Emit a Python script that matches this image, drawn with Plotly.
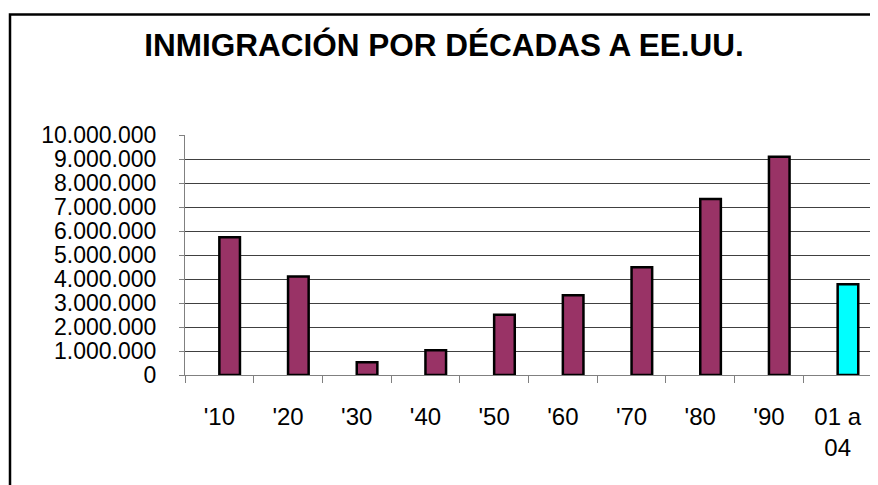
import plotly.graph_objects as go

# inmigración por décadas
decadas = ["'10", "'20", "'30", "'40", "'50", "'60", "'70", "'80", "'90"]
inmigrantes = [5735811, 4107209, 528431, 1035039, 2515479, 3321677, 4493314, 7338062, 9095417]
ultimo = ["01 a<br>04"]
ultimo_valor = [3780019]
yticks = [0, 1000000, 2000000, 3000000, 4000000, 5000000,
          6000000, 7000000, 8000000, 9000000, 10000000]

# la página añade 8px de margen al cuerpo
OFF = 8
W, H = 878 - OFF, 485 - OFF
L, R, T, B = 185 - OFF, 6, 135 - OFF, 110
pw = W - L - R
ph = H - T - B

fig = go.Figure()
fig.add_trace(go.Bar(x=decadas, y=inmigrantes, width=0.3, offset=0,
                     marker=dict(color="#993366", line=dict(color="black", width=2.5)),
                     name="Décadas"))
fig.add_trace(go.Bar(x=ultimo, y=ultimo_valor, width=0.3, offset=0,
                     marker=dict(color="#00FFFF", line=dict(color="black", width=2.5)),
                     name="2001-2004"))

fig.update_layout(
    width=W, height=H,
    margin=dict(l=L, r=R, t=T, b=B),
    paper_bgcolor="white", plot_bgcolor="white",
    barmode="overlay",
    showlegend=False,
    separators=",.",
    font=dict(family="Arial, Liberation Sans, sans-serif", color="black"),
    title=dict(text="<b>INMIGRACIÓN POR DÉCADAS A EE.UU.</b>",
               x=(444 - OFF) / W, xanchor="center", y=1 - (45 - OFF) / H, yanchor="middle",
               font=dict(size=31.5, color="black")),
)

fig.update_xaxes(
    categoryorder="array", categoryarray=decadas + ultimo,
    tickson="boundaries", ticks="outside", ticklen=7, tickcolor="#808080",
    showline=True, linecolor="#808080", linewidth=1,
    showgrid=False, tickfont=dict(size=24), ticklabelstandoff=20,
)
fig.update_yaxes(
    range=[0, 10000000], tickvals=yticks, tickformat=",d",
    ticks="outside", ticklen=5, tickcolor="#808080",
    showline=True, linecolor="#808080", linewidth=1,
    showgrid=True, gridcolor="#404040", gridwidth=1, zeroline=False,
    tickfont=dict(size=23), ticklabelstandoff=18,
)

# marco del gráfico
fig.add_shape(type="rect", xref="paper", yref="paper",
              x0=(10 - OFF - L) / pw, x1=(W + 20 - L) / pw,
              y0=(H - B - (H + 20)) / ph, y1=(H - B - (14.5 - OFF)) / ph,
              line=dict(color="black", width=2.5), fillcolor="rgba(0,0,0,0)",
              layer="below")

fig.write_html("out.html")
